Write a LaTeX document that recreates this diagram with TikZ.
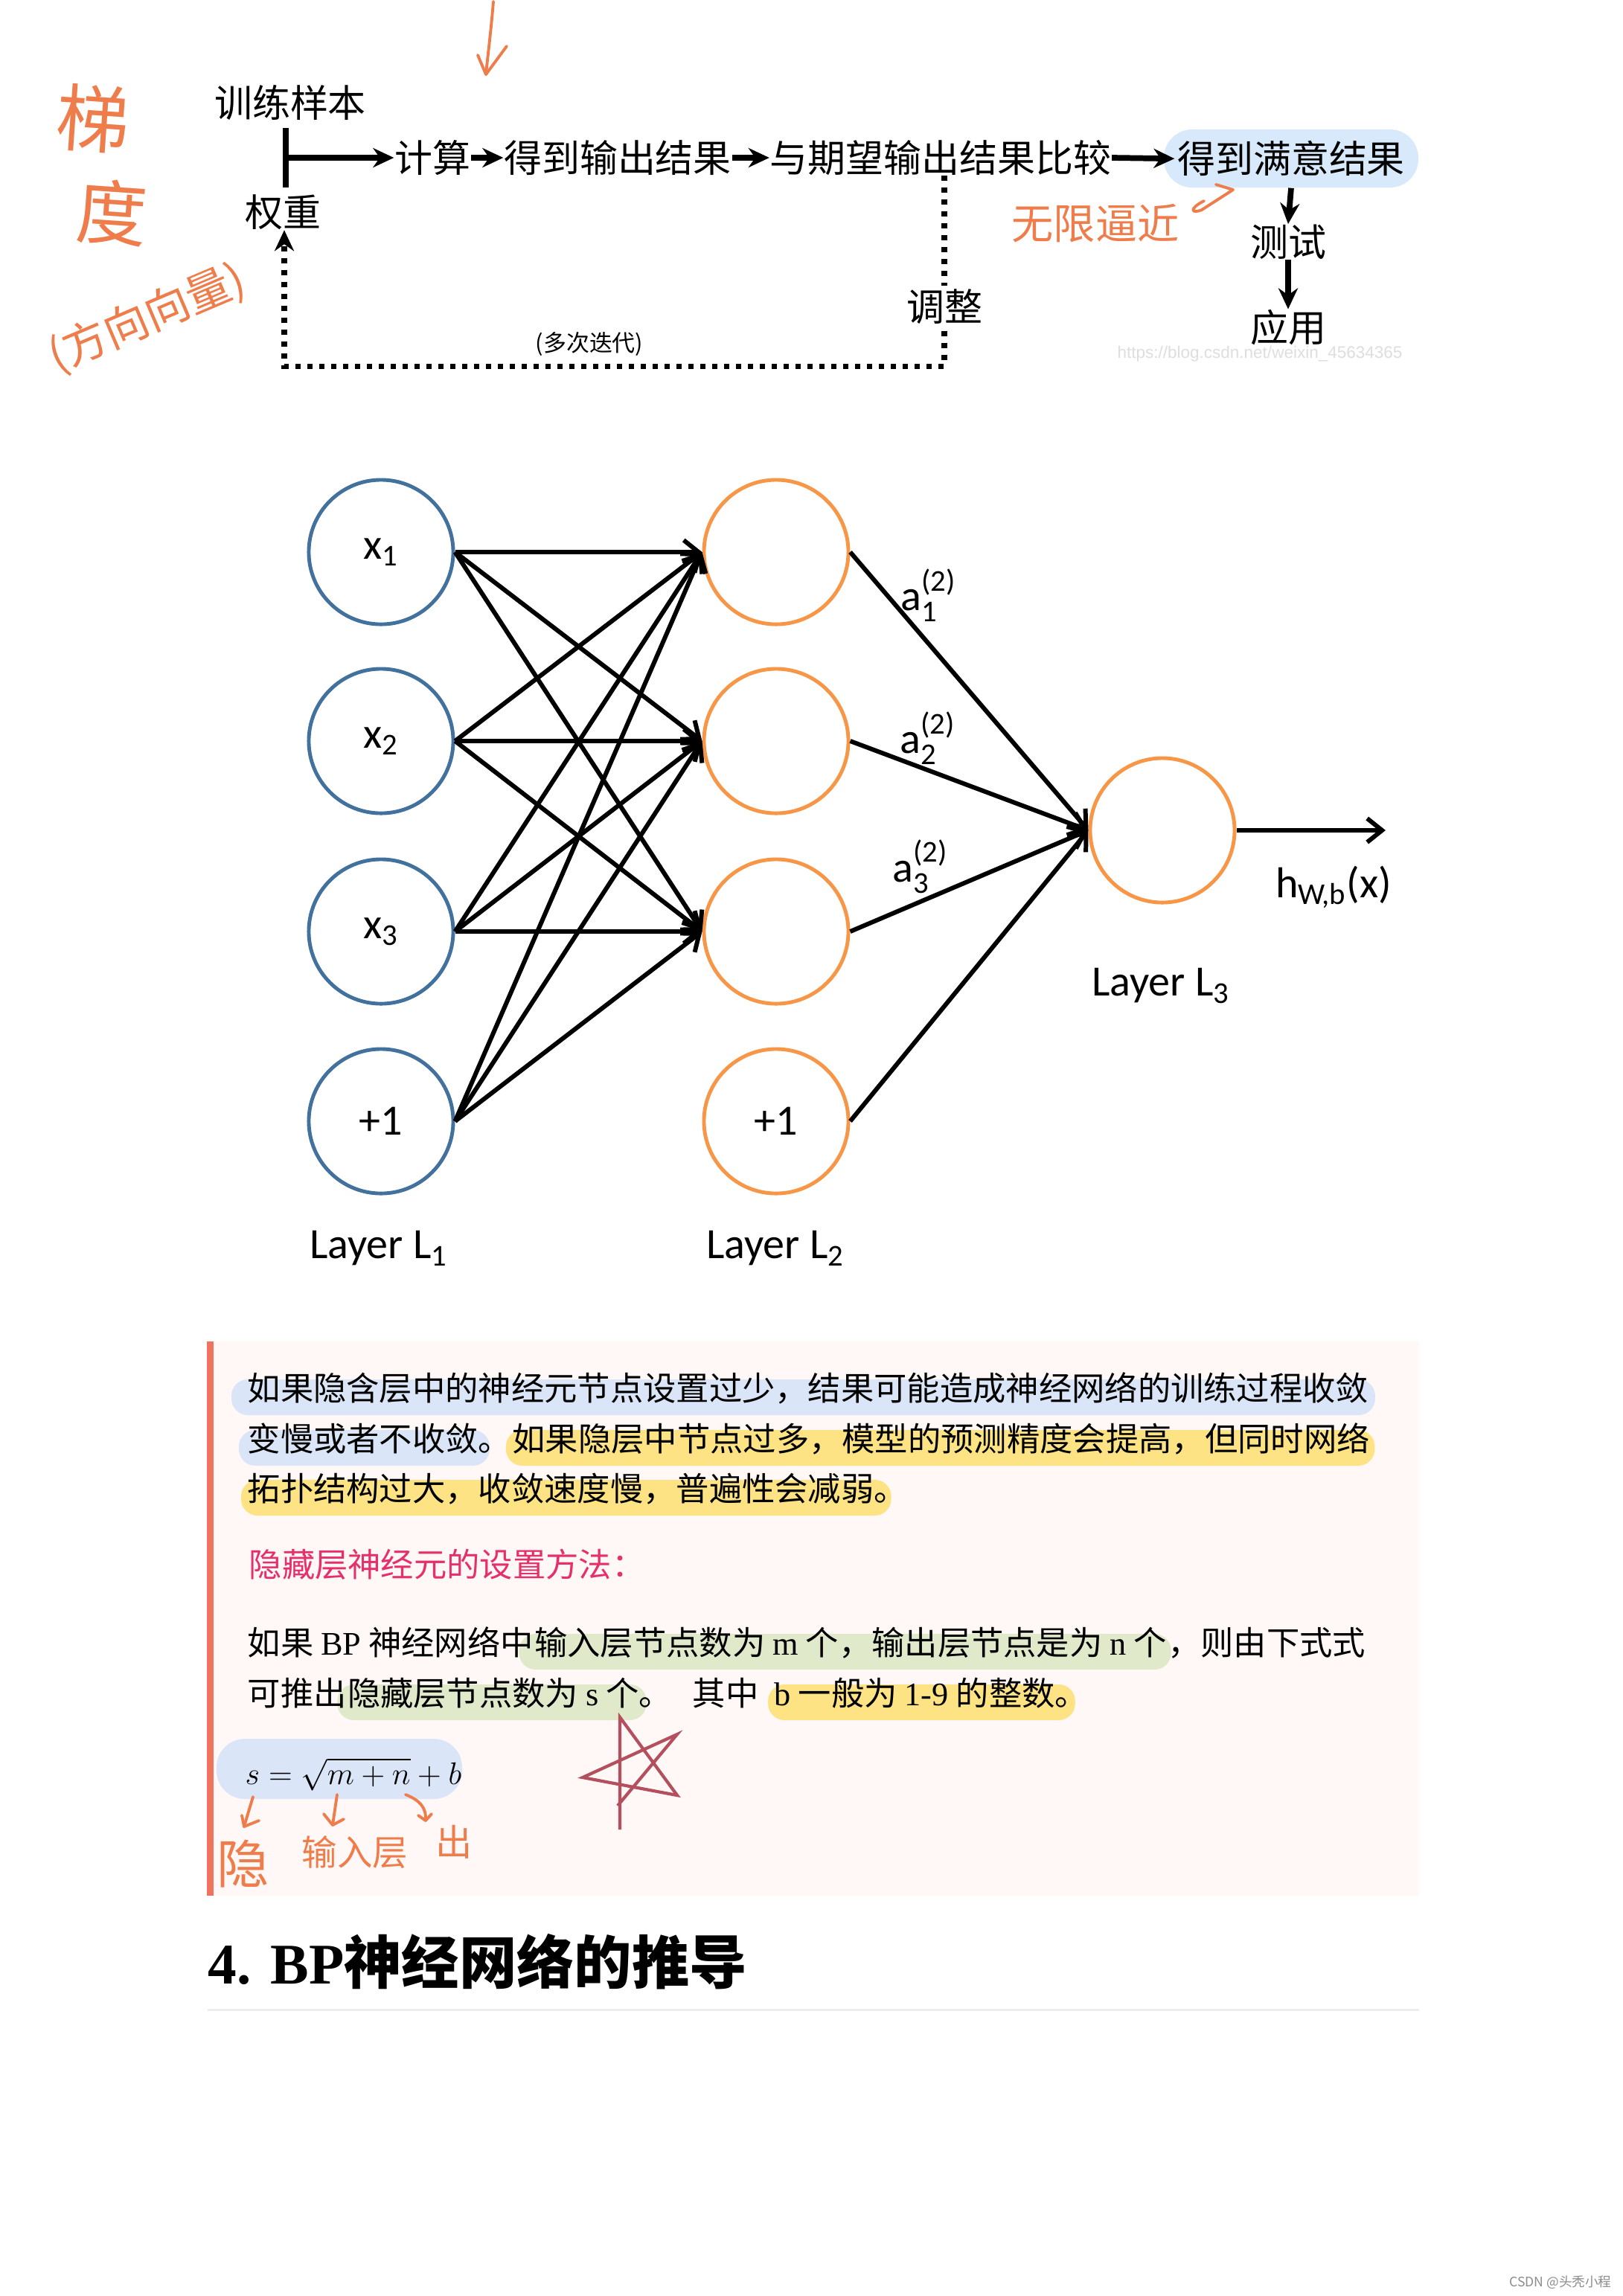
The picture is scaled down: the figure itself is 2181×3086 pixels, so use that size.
\documentclass[tikz,border=0pt]{standalone}
\usepackage{amsmath}
\usepackage[no-math]{fontspec}
\setmainfont{Noto Sans CJK SC}
\newfontfamily\serifen{Liberation Serif}
\newfontfamily\carl{Carlito}
\newfontfamily\wmsans{Liberation Sans}
\usetikzlibrary{arrows.meta}

\definecolor{netblue}{HTML}{41719C}
\definecolor{netorange}{HTML}{F79646}
\definecolor{pillblue}{HTML}{D7E9FB}
\definecolor{hlblue}{HTML}{DAE6F7}
\definecolor{hlyellow}{HTML}{FDE383}
\definecolor{hlgreen}{HTML}{E0EACB}
\definecolor{notebg}{HTML}{FFF8F7}
\definecolor{notebar}{HTML}{F0735F}
\definecolor{notepink}{HTML}{E5306B}
\definecolor{penorange}{HTML}{EF7D4B}
\definecolor{starred}{HTML}{B4505E}
\definecolor{rulegray}{HTML}{EDEDED}

\pgfdeclarelayer{bg}
\pgfsetlayers{bg,main}

% highlight band behind a text node: colour, node, left and right overhang
\newcommand\hlmark[4]{\fill[#1,rounded corners=0.22cm]
  ([shift={(-#3,-28)}]#2.base west) rectangle ([shift={(#4,20)}]#2.base east);}

\begin{document}
\begin{tikzpicture}[x=0.01cm,y=-0.01cm,>={Stealth[length=0.28cm,width=0.26cm]},
  flow/.style={inner sep=0pt,font=\fontsize{14.5}{16}\selectfont},
  bigarrow/.style={->,line width=2.2pt},
  loopline/.style={->,line width=2pt,dash pattern=on 0.07cm off 0.09cm},
  neuron/.style={circle,minimum size=1.94cm,inner sep=0pt,line width=1.4pt,
    font=\carl\fontsize{16.5}{18}\selectfont},
  inlayer/.style={neuron,draw=netblue},
  hidlayer/.style={neuron,draw=netorange},
  conn/.style={-{Straight Barb[length=0.2cm,width=0.32cm]},line width=1.7pt},
  netlabel/.style={inner sep=0pt,font=\carl\fontsize{16.5}{18}\selectfont},
  body/.style={inner sep=0pt,anchor=base west,font=\fontsize{12.6}{15}\selectfont},
  penline/.style={draw=penorange,line width=1.1pt,line cap=round,line join=round},
  hand/.style={text=penorange,inner sep=0pt}]
  \begin{pgfonlayer}{bg}
    \fill[white] (0,0) rectangle (2181,3086);
  \end{pgfonlayer}
  \useasboundingbox (0,0) rectangle (2181,3086);

  % training flow
  \node[flow] (sample) at (390,138) {训练样本};
  \node[flow] (weight) at (380,285) {权重};
  \coordinate (barT) at (384,172);
  \coordinate (barB) at (384,252);
  \coordinate (barM) at (384,212);
  \draw[line width=2.2pt] (barT) -- (barB);
  \node[flow] (calc) at (581,212) {计算};
  \node[flow] (outp) at (830,212) {得到输出结果};
  \node[flow] (cmp) at (1264,212) {与期望输出结果比较};
  \node[flow,fill=pillblue,rounded corners=0.38cm,minimum height=0.78cm,inner xsep=0.18cm]
    (good) at (1735,213) {得到满意结果};
  \node[flow] (test) at (1731,325) {测试};
  \node[flow] (use) at (1731,440) {应用};
  \draw[bigarrow] (barM) -- (calc.west);
  \draw[bigarrow] (calc.east) -- (outp.west);
  \draw[bigarrow] (outp.east) -- (cmp.west);
  \draw[bigarrow,shorten >=-0.15cm] (cmp.east) -- (good.west);
  \draw[bigarrow] (good.south) -- (test.north);
  \draw[bigarrow] (test.south) -- (use.north);
  \coordinate (loopR) at (1269,492);
  \coordinate (loopL) at (382,492);
  \draw[loopline] (cmp.south -| loopR) -- (loopR) -- (loopL) -- (loopL |- weight.south);
  \node[flow,fill=white,inner sep=0.05cm] (adjust) at (1269,412) {调整};
  \node[flow,font=\fontsize{8.8}{10}\selectfont] (iter) at (792,462) {(多次迭代)};
  \node[inner sep=0pt,text=black!13,font=\wmsans\fontsize{6.4}{7}\selectfont] (wm)
    at (1693,476) {https://blog.csdn.net/weixin\_45634365};

  % network
  \node[inlayer] (x1) at (512,742) {x$_{\text{1}}$};
  \node[inlayer] (x2) at (512,996) {x$_{\text{2}}$};
  \node[inlayer] (x3) at (512,1252) {x$_{\text{3}}$};
  \node[inlayer] (b1) at (512,1507) {+1};
  \node[hidlayer] (h1) at (1043,742) {};
  \node[hidlayer] (h2) at (1043,996) {};
  \node[hidlayer] (h3) at (1043,1252) {};
  \node[hidlayer] (b2) at (1043,1507) {+1};
  \node[hidlayer] (o) at (1562,1116) {};
  \coordinate (hout) at (1862,1116);
  \foreach \s in {x1,x2,x3,b1}
    \foreach \t in {h1,h2,h3}
      \draw[conn] (\s.east) -- (\t.west);
  \foreach \s in {h1,h2,h3,b2}
    \draw[conn] (\s.east) -- (o.west);
  \draw[conn] (o.east) -- (hout);
  \node[netlabel] (a1) at (1248,800) {a$^{\text{(2)}}_{\text{1}}$};
  \node[netlabel] (a2) at (1247,992) {a$^{\text{(2)}}_{\text{2}}$};
  \node[netlabel] (a3) at (1237,1165) {a$^{\text{(2)}}_{\text{3}}$};
  \node[netlabel] (hx) at (1792,1192) {h$_{\text{W,b}}$(x)};
  \node[netlabel] (lay1) at (509,1678) {Layer L$_{\text{1}}$};
  \node[netlabel] (lay2) at (1042,1678) {Layer L$_{\text{2}}$};
  \node[netlabel] (lay3) at (1560,1325) {Layer L$_{\text{3}}$};

  % note box
  \begin{pgfonlayer}{bg}
    \fill[notebg] (279,1803) rectangle (1907,2548);
    \fill[notebar] (278,1803) rectangle (287,2548);
  \end{pgfonlayer}
  \node[body] (n1) at (332,1882) {如果隐含层中的神经元节点设置过少，结果可能造成神经网络的训练过程收敛};
  \node[body] (n2a) at (332,1950) {变慢或者不收敛。};
  \node[body] (n2b) at (n2a.base east) {如果隐层中节点过多，模型的预测精度会提高，但同时网络};
  \node[body] (n3) at (332,2017) {拓扑结构过大，收敛速度慢，普遍性会减弱。};
  \node[body,text=notepink] (n4) at (334,2119) {隐藏层神经元的设置方法：};
  \node[body] (n5a) at (332,2224) {如果 {\serifen BP} 神经网络中};
  \node[body] (n5b) at (n5a.base east) {输入层节点数为 {\serifen m} 个，输出层节点是为 {\serifen n} 个};
  \node[body] (n5c) at (n5b.base east) {，则由下式式};
  \node[body] (n6a) at (332,2292) {可推出};
  \node[body] (n6b) at (n6a.base east) {隐藏层节点数为 {\serifen s} 个。};
  \node[body] (n6c) at (n6b.base east) {\kern0.6em 其中\kern0.45em};
  \node[body] (n6d) at (n6c.base east) {{\serifen b} 一般为 {\serifen 1-9} 的整数。};
  \begin{pgfonlayer}{bg}
    \hlmark{hlblue}{n1}{21}{8}
    \hlmark{hlblue}{n2a}{11}{-30}
    \hlmark{hlyellow}{n2b}{8}{6}
    \hlmark{hlyellow}{n3}{8}{-22}
    \hlmark{hlgreen}{n5b}{20}{5}
    \hlmark{hlgreen}{n6b}{13}{-35}
    \hlmark{hlyellow}{n6d}{8}{-18}
    \fill[hlblue,rounded corners=0.38cm] (291,2337) rectangle (621,2418);
  \end{pgfonlayer}
  \node[anchor=base west,inner sep=0pt,font=\fontsize{12}{14}\selectfont] (fml)
    at (329,2398) {$s=\sqrt{m+n}+b$};
  \draw[starred,line width=1.2pt] (833,2459) -- (833,2308) -- (910,2413) -- (783,2389)
    -- (910,2331) -- (830,2427);

  % heading
  \node[anchor=base west,inner sep=0pt,font=\bfseries\fontsize{22}{26}\selectfont] (sec)
    at (279,2666) {{\serifen 4. BP}神经网络的推导};
  \draw[rulegray,line width=0.03cm] (279,2701) -- (1907,2701);
  \node[inner sep=0pt,text=black!45,font=\fontsize{5}{6}\selectfont] (csdn)
    at (2097,3068) {CSDN @头秃小程};

  % pen notes
  \node[hand,font=\fontsize{28}{30}\selectfont,rotate=-4] (tiA) at (125,160) {梯};
  \node[hand,font=\fontsize{27}{30}\selectfont,rotate=-4] (tiB) at (150,286) {度};
  \node[hand,font=\fontsize{17}{19}\selectfont,rotate=23] (tiC) at (198,428) {(方向向量)};
  \draw[penline] (663,2) .. controls (660,40) and (656,70) .. (653,100);
  \draw[penline] (642,74) -- (653,100) -- (681,62);
  \node[hand,font=\fontsize{16}{18}\selectfont] (near) at (1472,300) {无限逼近};
  \draw[penline] (1618,270) .. controls (1598,280) and (1600,288) .. (1615,282)
    -- (1657,255) -- (1634,248);
  \draw[penline] (340,2415) -- (328,2455);
  \draw[penline] (325,2440) -- (328,2455) -- (348,2447);
  \node[hand,font=\fontsize{20}{22}\selectfont] (yin) at (327,2505) {隐};
  \draw[penline] (453,2412) -- (447,2453);
  \draw[penline] (435,2438) -- (447,2453) -- (462,2445);
  \node[hand,font=\fontsize{13.5}{15}\selectfont] (shuru) at (477,2490) {输入层};
  \draw[penline] (545,2412) .. controls (565,2420) and (573,2430) .. (572,2447);
  \draw[penline] (562,2440) -- (572,2447) -- (580,2438);
  \node[hand,font=\fontsize{14}{15}\selectfont] (chu) at (610,2476) {出};
\end{tikzpicture}
\end{document}
